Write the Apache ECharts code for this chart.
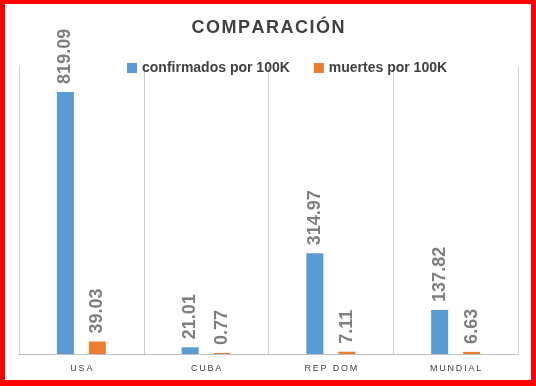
<!DOCTYPE html>
<html>
<head>
<meta charset="utf-8">
<script src="https://cdn.jsdelivr.net/npm/echarts@6/dist/echarts.min.js"></script>
<style>
html,body{margin:0;padding:0;background:#ff0000;}
#bg{position:absolute;left:5px;top:4px;width:526px;height:376px;background:#ffffff;}
#chart{position:absolute;left:0;top:0;width:536px;height:386px;}
</style>
</head>
<body>
<div id="bg"></div>
<div id="chart"></div>
<script>
const categories = ['USA', 'CUBA', 'REP DOM', 'MUNDIAL'];
const confirmados = [819.09, 21.01, 314.97, 137.82];
const muertes = [39.03, 0.77, 7.11, 6.63];
const seriesNames = ['confirmados por 100K', 'muertes por 100K'];
const titleText = 'COMPARACIÓN';

function spaced(s, sp) { return s.split('').join(sp); }

const chart = echarts.init(document.getElementById('chart'), null, {renderer: 'canvas'});
const labelCfg = {
  show: true,
  position: 'top',
  rotate: 90,
  align: 'left',
  verticalAlign: 'middle',
  distance: 8,
  color: '#7f7f7f',
  fontFamily: 'Liberation Sans',
  fontWeight: 'bold',
  fontSize: 18,
  formatter: p => p.value.toFixed(2)
};
chart.setOption({
  backgroundColor: 'transparent',
  animation: false,
  title: {
    text: spaced(titleText, '\u200A'),
    left: 'center',
    top: 14,
    textStyle: {fontFamily: 'Liberation Sans', fontWeight: 'bold', fontSize: 18, color: '#404040'}
  },
  legend: {
    left: 122,
    top: 56,
    itemWidth: 10,
    itemHeight: 10,
    itemGap: 24,
    icon: 'rect',
    textStyle: {fontFamily: 'Liberation Sans', fontWeight: 'bold', fontSize: 14, color: '#404040'},
    data: seriesNames
  },
  grid: {left: 19, right: 18, top: 66, bottom: 32, containLabel: false},
  xAxis: {
    type: 'category',
    data: categories,
    axisLine: {show: true, lineStyle: {color: '#bfbfbf', width: 1}},
    axisTick: {show: false},
    splitLine: {show: true, lineStyle: {color: '#d0d0d0', width: 1}},
    axisLabel: {
      color: '#404040', fontFamily: 'Liberation Sans', fontSize: 9, margin: 10,
      formatter: v => spaced(v, '\u2009')
    }
  },
  yAxis: {
    type: 'value', min: 0, max: 900, interval: 100,
    show: false, splitLine: {show: false}
  },
  series: [
    {name: seriesNames[0], type: 'bar', data: confirmados, barWidth: 17, barGap: '88%',
     barMinHeight: 1, itemStyle: {color: '#5b9bd5'}, label: labelCfg},
    {name: seriesNames[1], type: 'bar', data: muertes, barWidth: 17,
     barMinHeight: 1, itemStyle: {color: '#ed7d31'}, label: labelCfg}
  ]
});
</script>
</body>
</html>
